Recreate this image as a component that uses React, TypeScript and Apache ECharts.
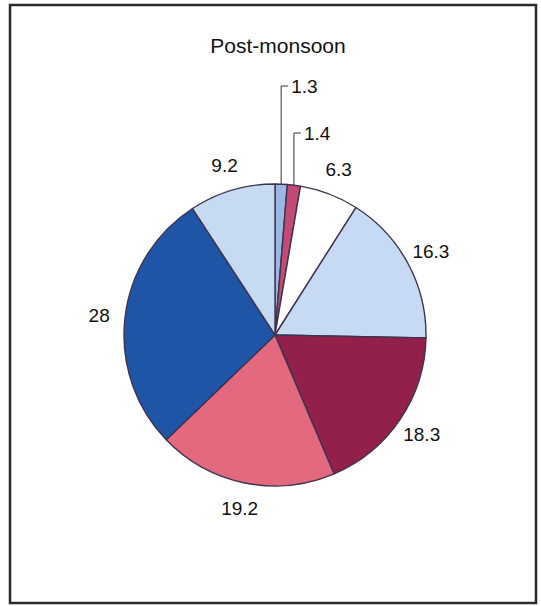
import React, { useEffect, useRef } from "react";
import * as echarts from "echarts";

const titleText = "Post-monsoon";
const sliceValues = [1.3, 1.4, 6.3, 16.3, 18.3, 19.2, 28, 9.2];
const sliceLabels = ["1.3", "1.4", "6.3", "16.3", "18.3", "19.2", "28", "9.2"];
const sliceColors = ["#9bb8e3", "#c24a74", "#ffffff", "#c6dbf3", "#931f4b", "#e3697f", "#1f55a7", "#c6daf2"];

const CX = 275;
const CY = 335;
const R = 151;

export default function App() {
  const ref = useRef<HTMLDivElement>(null);
  useEffect(() => {
    const chart = echarts.init(ref.current!, null, { renderer: "svg" });
    const total = sliceValues.reduce((a, b) => a + b, 0);
    const midAngles: number[] = [];
    let acc = 0;
    sliceValues.forEach((v) => {
      midAngles.push(((acc + v / 2) / total) * Math.PI * 2);
      acc += v;
    });
    const leaderTops = [86, 133];
    const font = "Liberation Sans, Arial, sans-serif";

    chart.setOption({
      animation: false,
      backgroundColor: "#ffffff",
      title: {
        text: titleText,
        left: 273,
        top: 30,
        textAlign: "center",
        textStyle: { fontFamily: font, fontSize: 21, fontWeight: "normal", color: "#111" },
      },
      graphic: [
        {
          type: "rect",
          shape: { x: 10, y: 5, width: 526, height: 598 },
          style: { fill: "none", stroke: "#2b2b2b", lineWidth: 2.5 },
          z: 10,
        },
      ],
      series: [
        {
          type: "pie",
          center: [CX, CY],
          radius: [0, R],
          startAngle: 90,
          clockwise: true,
          avoidLabelOverlap: false,
          itemStyle: { borderColor: "#3f3350", borderWidth: 1.4 },
          label: {
            show: true,
            position: "outside",
            formatter: (p: any) => sliceLabels[p.dataIndex],
            fontFamily: font,
            fontSize: 19,
            color: "#111",
          },
          labelLine: { show: true, lineStyle: { color: "#333", width: 1 }, length: 10, length2: 5 },
          labelLayout: (params: any) => {
            const i = params.dataIndex;
            const a = midAngles[i];
            if (i < 2) {
              const ex = CX + R * Math.sin(a);
              const ey = CY - R * Math.cos(a);
              const ly = leaderTops[i];
              return {
                x: ex + 10,
                y: ly,
                align: "left",
                verticalAlign: "middle",
                labelLinePoints: [
                  [ex, ey],
                  [ex, ly],
                  [ex + 7, ly],
                ],
              };
            }
            const d = R + 26;
            return {
              x: CX + d * Math.sin(a),
              y: CY - d * Math.cos(a),
              align: "center",
              verticalAlign: "middle",
            };
          },
          data: sliceValues.map((v, i) => ({
            value: v,
            name: sliceLabels[i],
            itemStyle: { color: sliceColors[i] },
            labelLine: { show: i < 2 },
          })),
        },
      ],
    });
    return () => chart.dispose();
  }, []);
  return (
    <div
      ref={ref}
      style={{ position: "fixed", left: 0, top: 0, width: 541, height: 606 }}
    />
  );
}
